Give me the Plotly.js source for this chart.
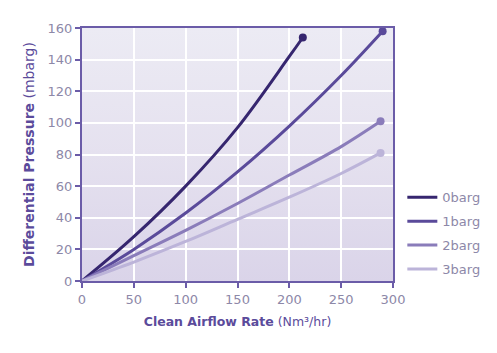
<!DOCTYPE html>
<html>
<head>
<meta charset="utf-8">
<script src="https://cdn.plot.ly/plotly-3.0.1.min.js"></script>
<style>
html,body{margin:0;padding:0;background:#fff;}
#chart{width:497px;height:353px;}
</style>
</head>
<body>
<div id="chart"></div>
<script>
var seriesNames = ["0barg", "1barg", "2barg", "3barg"];
var x0 = [0, 50, 100, 150, 200, 213];
var y0 = [0, 28, 60, 97, 142, 154];
var x1 = [0, 50, 100, 150, 200, 250, 290];
var y1 = [0, 20, 43, 69, 98, 130, 158];
var x2 = [0, 50, 100, 150, 200, 250, 288];
var y2 = [0, 16, 32, 49, 67, 85, 101];
var x3 = [0, 50, 100, 150, 200, 250, 288];
var y3 = [0, 12, 25, 39, 53, 68, 81];
var xTicks = [0, 50, 100, 150, 200, 250, 300];
var yTicks = [0, 20, 40, 60, 80, 100, 120, 140, 160];

var colors = ["#36266f", "#5a4a9a", "#8a7cba", "#bcb4d9"];
var xs = [x0, x1, x2, x3], ys = [y0, y1, y2, y3];

var traces = [];
seriesNames.forEach(function (name, k) {
  traces.push({
    type: "scatter", mode: "lines", name: name, legendgroup: name,
    x: xs[k], y: ys[k],
    line: {color: colors[k], width: 3, shape: "spline", smoothing: 1}
  });
});
seriesNames.forEach(function (name, k) {
  var xx = xs[k], yy = ys[k];
  traces.push({
    type: "scatter", mode: "markers", name: name, legendgroup: name, showlegend: false,
    x: [xx[xx.length - 1]], y: [yy[yy.length - 1]],
    marker: {color: colors[k], size: 8}
  });
});

var grad = 'data:image/svg+xml;utf8,' + encodeURIComponent(
  '<svg xmlns="http://www.w3.org/2000/svg" width="100" height="100" preserveAspectRatio="none">' +
  '<defs><linearGradient id="g" x1="0" y1="0" x2="0" y2="1">' +
  '<stop offset="0" stop-color="#ecebf4"/><stop offset="0.5" stop-color="#e5e1ef"/><stop offset="1" stop-color="#dad4e9"/>' +
  '</linearGradient></defs><rect width="100" height="100" fill="url(#g)"/></svg>');

var tickFont = {family: "DejaVu Sans, sans-serif", size: 13, color: "#8d88a8"};
var axisCol = "#6b5ca8";

var layout = {
  width: 497, height: 353,
  margin: {l: 82, r: 100, t: 28, b: 72},
  paper_bgcolor: "#ffffff",
  plot_bgcolor: "rgba(0,0,0,0)",
  showlegend: true,
  legend: {
    x: 1.03, y: 0.39, xanchor: "left", yanchor: "top",
    font: {family: "DejaVu Sans, sans-serif", size: 13, color: "#8d88a8"},
    itemwidth: 30, tracegroupgap: 4, bgcolor: "rgba(0,0,0,0)"
  },
  images: [{source: grad, xref: "paper", yref: "paper", x: 0, y: 1, sizex: 1, sizey: 1,
            sizing: "stretch", layer: "below", xanchor: "left", yanchor: "top"}],
  xaxis: {
    range: [0, 300], tickvals: xTicks, ticktext: xTicks.map(String),
    showgrid: true, gridcolor: "#ffffff", gridwidth: 2,
    showline: true, linecolor: axisCol, linewidth: 2, mirror: true,
    ticks: "outside", ticklen: 5, tickwidth: 2, tickcolor: axisCol,
    tickfont: tickFont, zeroline: false, fixedrange: true,
    title: {text: "<b>Clean Airflow Rate</b> (Nm³/hr)", font: {family: "DejaVu Sans, sans-serif", size: 12.5, color: "#5b4b9b"}, standoff: 12}
  },
  yaxis: {
    range: [0, 160], tickvals: yTicks, ticktext: yTicks.map(String),
    showgrid: true, gridcolor: "#ffffff", gridwidth: 2,
    showline: true, linecolor: axisCol, linewidth: 2, mirror: true,
    ticks: "outside", ticklen: 5, tickwidth: 2, tickcolor: axisCol,
    tickfont: tickFont, zeroline: false, fixedrange: true,
    title: {text: "<b>Differential Pressure</b> (mbarg)", font: {family: "DejaVu Sans, sans-serif", size: 14, color: "#5b4b9b"}, standoff: 10}
  }
};

Plotly.newPlot("chart", traces, layout, {displayModeBar: false, staticPlot: true});
</script>
</body>
</html>
